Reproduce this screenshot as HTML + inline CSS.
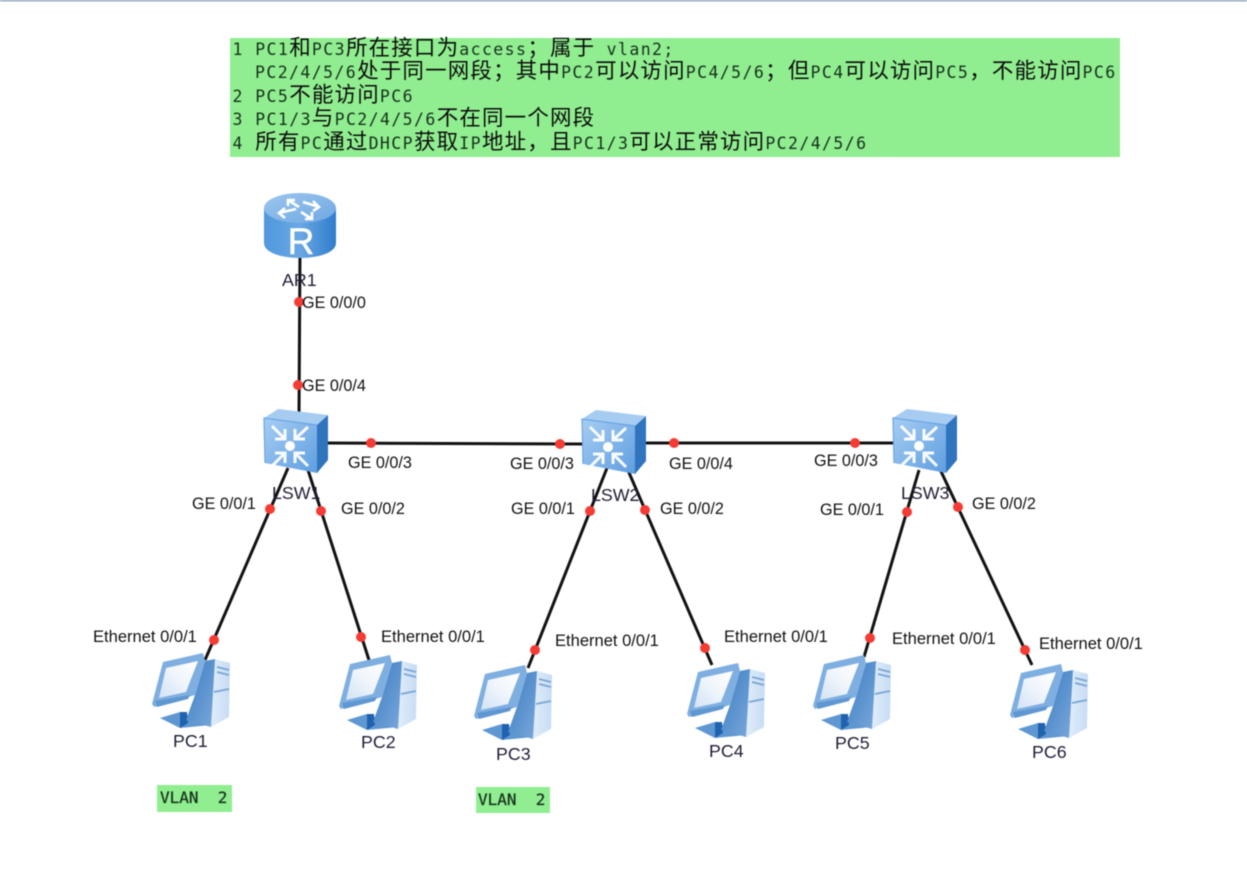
<!DOCTYPE html>
<html>
<head>
<meta charset="utf-8">
<style>
html,body{margin:0;padding:0;background:#fff;width:1247px;height:884px;overflow:hidden}
svg{display:block;filter:blur(0.4px)}
.m{font-family:"DejaVu Sans Mono","Liberation Mono",monospace;font-size:16.5px;letter-spacing:1.41px;fill:#16301c}
.m tspan.c{font-family:"WenQuanYi Zen Hei","Noto Sans CJK SC",sans-serif;font-size:21.5px;letter-spacing:1.16px;fill:#0c0c0c}
.l{font-family:"Liberation Sans",sans-serif;font-size:16.2px;fill:#111}
.e{font-family:"Liberation Sans",sans-serif;font-size:16.55px;fill:#111}
.n{font-family:"Liberation Sans",sans-serif;font-size:17.8px;fill:#1e1e36}
.v{font-family:"DejaVu Sans Mono","Liberation Mono",monospace;font-size:16px;fill:#16301c;stroke:#16301c;stroke-width:.25px;white-space:pre}
.w{stroke:#111;stroke-width:3;fill:none}
</style>
</head>
<body>
<svg width="1247" height="884" viewBox="0 0 1247 884" xmlns="http://www.w3.org/2000/svg">
<defs>
<linearGradient id="cyl" x1="0" x2="1" y1="0" y2="0">
<stop offset="0" stop-color="#4f97de"/><stop offset=".5" stop-color="#6aa8e4"/><stop offset="1" stop-color="#2f7ccc"/>
</linearGradient>
<linearGradient id="cylTop" x1="0" x2="1" y1="0" y2="1">
<stop offset="0" stop-color="#9cc6ee"/><stop offset="1" stop-color="#6fa8e2"/>
</linearGradient>
<linearGradient id="front" x1="0" x2="1" y1="0" y2="1">
<stop offset="0" stop-color="#a6cdf3"/><stop offset="1" stop-color="#5f9ee0"/>
</linearGradient>
<linearGradient id="screen" x1="0" x2="1" y1="1" y2="0">
<stop offset="0" stop-color="#d2e2f4"/><stop offset=".55" stop-color="#f1f6fc"/><stop offset="1" stop-color="#ffffff"/>
</linearGradient>
<linearGradient id="tower" x1="0" x2="1" y1="0" y2="0">
<stop offset="0" stop-color="#e0edfa"/><stop offset="1" stop-color="#c6dcf4"/>
</linearGradient>
<linearGradient id="tside" x1="0" x2="1" y1="0" y2="1">
<stop offset="0" stop-color="#3a7cc2"/><stop offset="1" stop-color="#7aa8da"/>
</linearGradient>

<g id="sw">
<polygon points="0,9 14,0 64,6 53,16" fill="#a6ccf2"/>
<polygon points="53,16 64,6 64,51 53,64" fill="#2f74bd"/>
<polygon points="0,9 53,16 53,64 1,54" fill="url(#front)"/>
<polyline points="1,54 0,9 53,16" fill="none" stroke="#6aa5e2" stroke-width="1.2"/>
<circle cx="26" cy="37" r="5" fill="#fff"/>
<g stroke="#fff" stroke-width="3" fill="none" opacity=".95">
<path d="M8,17 L21,30 M21,20 V30 H11"/>
<path d="M44,18 L31,30 M31,20 V30 H41"/>
<path d="M8,57 L21,44 M11,44 H21 V54"/>
<path d="M44,57 L31,44 M41,44 H31 V54"/>
</g>
</g>

<g id="pc">
<polygon points="8,63 28,57 59,70 28,73" fill="#5f97d2"/>
<polygon points="28,57 35,57 36,68 28,73" fill="#1f62ae"/>
<polygon points="63,4 78,8 77,62 59,72" fill="url(#tower)"/>
<polygon points="53,6 63,4 59,72 34,65 43,40" fill="url(#tside)"/>
<polygon points="11,7 51,-2 53,6 43,40 2,52 0,49" fill="#7fafe0"/>
<polygon points="14,13 46,6 34,37 7,43" fill="url(#screen)"/>
<polygon points="3,46 38,40 36,44 5,52" fill="#5f97d2"/>
<g stroke="#7aa5d4" stroke-width="1.8">
<line x1="65" y1="12" x2="77" y2="15"/>
<line x1="65" y1="17" x2="77" y2="20"/>
<line x1="62" y1="37" x2="77" y2="34"/>
</g>
</g>

<g id="dot"><circle r="5" fill="#f43c35"/></g>
</defs>

<rect x="0" y="0" width="1247" height="1.5" fill="#94a7bd"/>

<rect x="230" y="38" width="890" height="119" fill="#90ee90"/>
<text class="m" x="232.5" y="55" xml:space="preserve">1 PC1<tspan class="c">和</tspan>PC3<tspan class="c">所在接口为</tspan>access<tspan class="c">；属于</tspan> vlan2;</text>
<text class="m" x="255" y="78" xml:space="preserve">PC2/4/5/6<tspan class="c">处于同一网段；其中</tspan>PC2<tspan class="c">可以访问</tspan>PC4/5/6<tspan class="c">；但</tspan>PC4<tspan class="c">可以访问</tspan>PC5<tspan class="c">，不能访问</tspan>PC6</text>
<text class="m" x="232.5" y="102" xml:space="preserve">2 PC5<tspan class="c">不能访问</tspan>PC6</text>
<text class="m" x="232.5" y="125" xml:space="preserve">3 PC1/3<tspan class="c">与</tspan>PC2/4/5/6<tspan class="c">不在同一个网段</tspan></text>
<text class="m" x="232.5" y="149" xml:space="preserve">4 <tspan class="c">所有</tspan>PC<tspan class="c">通过</tspan>DHCP<tspan class="c">获取</tspan>IP<tspan class="c">地址，且</tspan>PC1/3<tspan class="c">可以正常访问</tspan>PC2/4/5/6</text>

<!-- connectors -->
<line class="w" x1="300" y1="250" x2="299" y2="415"/>
<line class="w" x1="325" y1="443" x2="585" y2="444"/>
<line class="w" x1="642" y1="443" x2="896" y2="443"/>
<line class="w" x1="288" y1="468" x2="205" y2="660"/>
<line class="w" x1="308" y1="470" x2="369" y2="660"/>
<line class="w" x1="607" y1="468" x2="528" y2="668"/>
<line class="w" x1="627" y1="468" x2="712" y2="665"/>
<line class="w" x1="919" y1="470" x2="864" y2="657"/>
<line class="w" x1="938" y1="465" x2="1032" y2="665"/>

<!-- router -->
<path d="M264,208 V243 C264,252 280,258 300,258 C320,258 336,252 336,243 V208 Z" fill="url(#cyl)"/>
<ellipse cx="300" cy="208" rx="36" ry="15" fill="url(#cylTop)"/>
<g stroke="#fff" stroke-width="2.6" fill="none">
<path d="M299,207 L288,200 M288,206 V200 H295"/>
<path d="M303,202 L319,207 M313,201 L319,207 L313,211"/>
<path d="M296,209 L279,213 M285,208 L279,213 L285,218"/>
<path d="M301,212 L312,219 M312,212 V219 H305"/>
</g>
<text x="301" y="254" text-anchor="middle" font-family="Liberation Sans,sans-serif" font-size="37" fill="#fff" stroke="#fff" stroke-width=".5">R</text>

<!-- switches -->
<use href="#sw" x="264" y="409"/>
<use href="#sw" x="582" y="410"/>
<use href="#sw" x="893" y="409"/>

<!-- PCs -->
<use href="#pc" x="152" y="655"/>
<use href="#pc" x="339" y="657"/>
<use href="#pc" x="474" y="667"/>
<use href="#pc" x="687" y="665"/>
<use href="#pc" x="813" y="657"/>
<use href="#pc" x="1010" y="666"/>

<!-- port dots -->
<use href="#dot" x="299" y="302"/><use href="#dot" x="298" y="385"/>
<use href="#dot" x="371" y="443"/><use href="#dot" x="560" y="444"/>
<use href="#dot" x="674" y="443"/><use href="#dot" x="855" y="443"/>
<use href="#dot" x="270" y="509"/><use href="#dot" x="321" y="511"/>
<use href="#dot" x="590" y="511"/><use href="#dot" x="645" y="510"/>
<use href="#dot" x="907" y="512"/><use href="#dot" x="958" y="507"/>
<use href="#dot" x="214" y="640"/><use href="#dot" x="361" y="637"/>
<use href="#dot" x="535" y="650"/><use href="#dot" x="705" y="648"/>
<use href="#dot" x="870" y="638"/><use href="#dot" x="1025" y="650"/>

<!-- port labels -->
<text class="l" x="302" y="308">GE 0/0/0</text>
<text class="l" x="302" y="391">GE 0/0/4</text>
<text class="l" x="348" y="468">GE 0/0/3</text>
<text class="l" x="510" y="469">GE 0/0/3</text>
<text class="l" x="669" y="469">GE 0/0/4</text>
<text class="l" x="814" y="466">GE 0/0/3</text>
<text class="l" x="192" y="509">GE 0/0/1</text>
<text class="l" x="341" y="514">GE 0/0/2</text>
<text class="l" x="511" y="514">GE 0/0/1</text>
<text class="l" x="660" y="514">GE 0/0/2</text>
<text class="l" x="820" y="515">GE 0/0/1</text>
<text class="l" x="972" y="509">GE 0/0/2</text>
<text class="e" x="93" y="642">Ethernet 0/0/1</text>
<text class="e" x="381" y="642">Ethernet 0/0/1</text>
<text class="e" x="555" y="646">Ethernet 0/0/1</text>
<text class="e" x="724" y="642">Ethernet 0/0/1</text>
<text class="e" x="892" y="644">Ethernet 0/0/1</text>
<text class="e" x="1039" y="649">Ethernet 0/0/1</text>

<!-- node labels -->
<text class="n" x="282" y="286">AR1</text>
<text class="n" x="272" y="499">LSW1</text>
<text class="n" x="591" y="501">LSW2</text>
<text class="n" x="901" y="499">LSW3</text>
<text class="n" x="173" y="747">PC1</text>
<text class="n" x="361" y="748">PC2</text>
<text class="n" x="496" y="760">PC3</text>
<text class="n" x="709" y="757">PC4</text>
<text class="n" x="835" y="749">PC5</text>
<text class="n" x="1032" y="758">PC6</text>

<!-- VLAN tags -->
<rect x="157" y="785" width="75" height="27" fill="#90ee90"/>
<text class="v" x="160" y="803" xml:space="preserve">VLAN  2</text>
<rect x="476" y="787" width="74" height="26" fill="#90ee90"/>
<text class="v" x="478" y="805" xml:space="preserve">VLAN  2</text>
</svg>
</body>
</html>
